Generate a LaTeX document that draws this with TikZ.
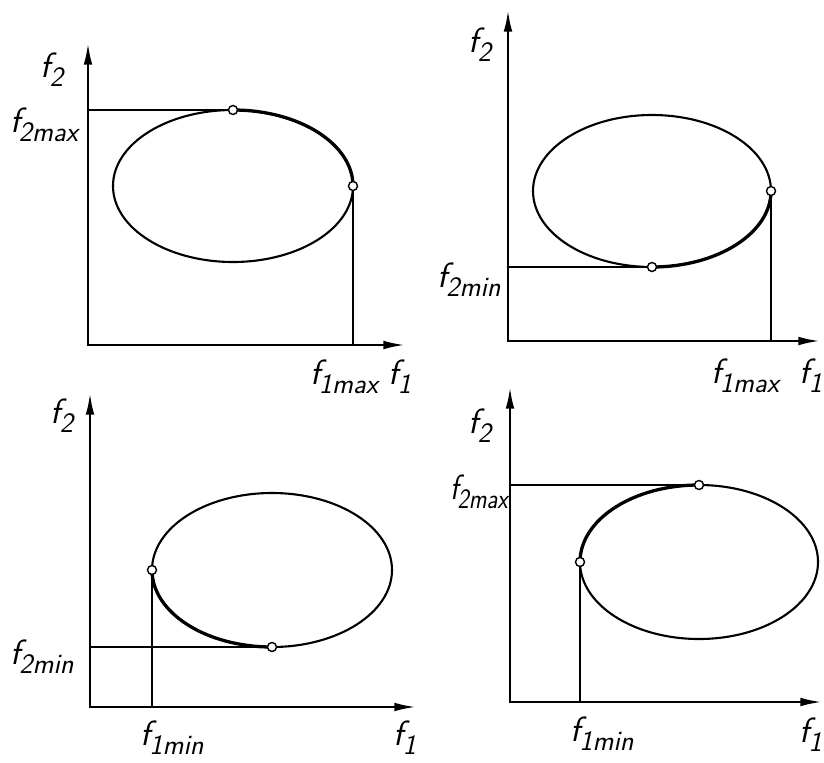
\documentclass[tikz,border=0pt]{standalone}
\usetikzlibrary{arrows.meta}

\newcommand{\flab}[2]{#1\kern-1pt\raisebox{-0.6ex}{\fontsize{24}{27}\selectfont #2}}

\begin{document}
\begin{tikzpicture}[
  x=0.03cm, y=-0.03cm,
  font=\sffamily\itshape\fontsize{30}{34}\selectfont,
  axis/.style  = {line width=2pt,
                  {Latex[length=6.5mm,width=2.6mm]}-{Latex[length=6.5mm,width=2.6mm]}},
  curve/.style = {line width=1.8pt},
  front/.style = {line width=2.8pt},
  guide/.style = {line width=1.5pt},
  opt/.style   = {circle, draw, fill=white, line width=1.2pt, inner sep=0pt,
                  minimum size=2.7mm},
  lab/.style   = {inner sep=0pt},
]
\useasboundingbox (0,0) rectangle (824,762);

% ---- f1 max / f2 max -------------------------------------------------------
\coordinate (o1) at (88,345);
\coordinate (y1) at (88,43);
\coordinate (x1) at (405,345);
\coordinate (c1) at (233,186);
\coordinate (t1) at (233,110);
\coordinate (r1) at (353,186);
\draw[axis] (y1) -- (o1) -- (x1);
\draw[curve] (c1) ellipse[x radius=120, y radius=76];
\draw[front] (t1) arc[start angle=-90, end angle=0, x radius=120, y radius=76];
\node[opt] (p1a) at (t1) {};
\node[opt] (p1b) at (r1) {};
\draw[guide] (p1a) -- (p1a -| o1);
\draw[guide] (p1b) -- (p1b |- o1);
\node[lab] (l1y)  at (52,70)   {\flab{f}{2}};
\node[lab] (l1f2) at (44,125)  {\flab{f}{2max}};
\node[lab] (l1f1) at (344,377) {\flab{f}{1max}};
\node[lab] (l1x)  at (400,377) {\flab{f}{1}};

% ---- f1 max / f2 min -------------------------------------------------------
\coordinate (o2) at (508,341);
\coordinate (y2) at (508,10);
\coordinate (x2) at (820,341);
\coordinate (c2) at (652,191);
\coordinate (b2) at (652,267);
\coordinate (r2) at (771,191);
\draw[axis] (y2) -- (o2) -- (x2);
\draw[curve] (c2) ellipse[x radius=119, y radius=76];
\draw[front] (r2) arc[start angle=0, end angle=90, x radius=119, y radius=76];
\node[opt] (p2a) at (b2) {};
\node[opt] (p2b) at (r2) {};
\draw[guide] (p2a) -- (p2a -| o2);
\draw[guide] (p2b) -- (p2b |- o2);
\node[lab] (l2y)  at (480,45)  {\flab{f}{2}};
\node[lab] (l2f2) at (469,280) {\flab{f}{2min}};
\node[lab] (l2f1) at (745,376) {\flab{f}{1max}};
\node[lab] (l2x)  at (811,376) {\flab{f}{1}};

% ---- f1 min / f2 min -------------------------------------------------------
\coordinate (o3) at (90,707);
\coordinate (y3) at (90,393);
\coordinate (x3) at (416,707);
\coordinate (c3) at (272,570);
\coordinate (b3) at (272,647);
\coordinate (l3) at (152,570);
\draw[axis] (y3) -- (o3) -- (x3);
\draw[curve] (c3) ellipse[x radius=120, y radius=77];
\draw[front] (b3) arc[start angle=90, end angle=180, x radius=120, y radius=77];
\node[opt] (p3a) at (l3) {};
\node[opt] (p3b) at (b3) {};
\draw[guide] (p3a) -- (p3a |- o3);
\draw[guide] (p3b) -- (p3b -| o3);
\node[lab] (l3y)  at (62,416)  {\flab{f}{2}};
\node[lab] (l3f2) at (42,657)  {\flab{f}{2min}};
\node[lab] (l3f1) at (172,738) {\flab{f}{1min}};
\node[lab] (l3x)  at (405,738) {\flab{f}{1}};

% ---- f1 min / f2 max -------------------------------------------------------
\coordinate (o4) at (510,702);
\coordinate (y4) at (510,387);
\coordinate (x4) at (822,702);
\coordinate (c4) at (699,562);
\coordinate (t4) at (699,485);
\coordinate (l4) at (580,562);
\draw[axis] (y4) -- (o4) -- (x4);
\draw[curve] (c4) ellipse[x radius=119, y radius=77];
\draw[front] (l4) arc[start angle=180, end angle=270, x radius=119, y radius=77];
\node[opt] (p4a) at (t4) {};
\node[opt] (p4b) at (l4) {};
\draw[guide] (p4a) -- (p4a -| o4);
\draw[guide] (p4b) -- (p4b |- o4);
\node[lab] (l4y)  at (480,426) {\flab{f}{2}};
\node[lab, anchor=east, xscale=0.85] (l4f2) at (508,492) {\flab{f}{2max}};
\node[lab] (l4f1) at (602,734) {\flab{f}{1min}};
\node[lab, anchor=east] (l4x) at (822,735) {\flab{f}{1}};

\end{tikzpicture}
\end{document}
